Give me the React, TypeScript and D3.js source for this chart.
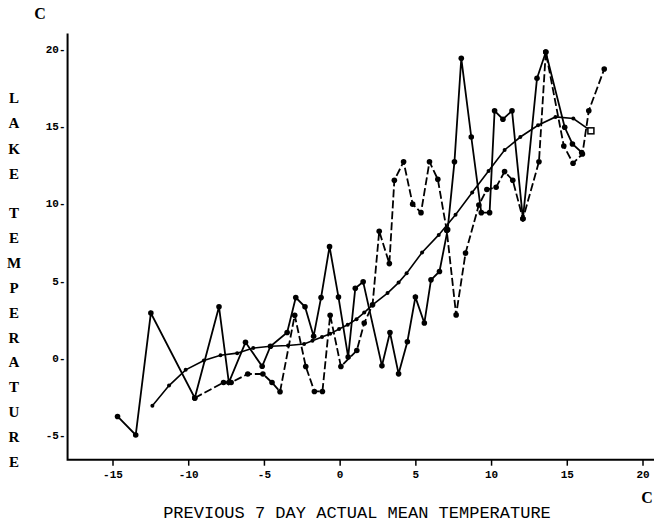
import React from "react";
import * as d3 from "d3";

const xTicks = [-15, -10, -5, 0, 5, 10, 15, 20];
const yTicks = [-5, 0, 5, 10, 15, 20];

const smoothX = [-12.4, -11.3, -10.2, -9.0, -7.9, -6.8, -5.74, -4.6, -3.44, -2.38, -1.83, -1.2, -0.66, -0.07, 0.5, 1.08, 1.59, 2.14, 3.13, 3.86, 4.39, 5.41, 6.51, 7.62, 8.72, 9.8, 10.86, 11.9, 13.07, 14.22, 15.4, 16.56];
const smoothY = [-3.1, -1.8, -0.78, -0.17, 0.17, 0.3, 0.63, 0.75, 0.8, 0.89, 1.1, 1.34, 1.55, 1.86, 2.14, 2.5, 2.93, 3.43, 4.19, 4.87, 5.48, 6.82, 7.96, 9.26, 10.7, 12.1, 13.46, 14.3, 15.06, 15.6, 15.5, 14.7];

const solidX = [-14.7, -13.5, -12.5, -9.6, -8.0, -7.35, -6.25, -5.15, -4.6, -3.5, -2.93, -2.32, -1.75, -1.26, -0.7, -0.11, 0.53, 1.0, 1.52, 2.76, 3.29, 3.86, 4.44, 4.97, 5.56, 6.0, 6.56, 7.1, 7.55, 8.0, 8.66, 9.32, 9.87, 10.2, 10.75, 11.35, 12.07, 13.0, 13.58, 14.83, 15.34, 15.95];
const solidY = [-3.8, -5.0, 2.9, -2.6, 3.3, -1.6, 1.0, -0.55, 0.75, 1.64, 3.9, 3.3, 1.4, 3.9, 7.2, 3.93, 0.05, 4.5, 4.92, -0.52, 1.64, -1.04, 1.04, 3.93, 2.25, 5.05, 5.59, 8.3, 12.7, 19.4, 14.3, 9.4, 9.4, 16.0, 15.45, 16.0, 9.0, 18.1, 19.8, 14.93, 13.85, 13.3];

const dashedX = [-9.6, -7.7, -7.2, -6.1, -5.1, -4.5, -3.97, -3.0, -2.27, -1.7, -1.17, -0.66, 0.05, 1.1, 1.59, 2.14, 2.58, 3.25, 3.58, 4.19, 4.79, 5.34, 5.9, 6.45, 7.04, 7.66, 8.28, 9.16, 9.69, 10.3, 10.86, 11.4, 12.07, 13.13, 13.58, 14.77, 15.38, 16.0, 16.42, 17.44];
const dashedY = [-2.6, -1.6, -1.6, -1.05, -1.05, -1.6, -2.2, 2.76, -0.56, -2.18, -2.18, 2.76, -0.56, 0.47, 2.25, 3.43, 8.2, 6.1, 11.5, 12.7, 9.95, 9.4, 12.7, 11.56, 8.24, 2.78, 6.78, 9.9, 10.9, 11.05, 12.06, 11.5, 9.0, 12.7, 19.8, 13.72, 12.6, 13.2, 16.0, 18.7];

const yTitleWord1 = ["L", "A", "K", "E"];
const yTitleWord2 = ["T", "E", "M", "P", "E", "R", "A", "T", "U", "R", "E"];

const W = 654;
const H = 526;

export default function App() {
  const x = d3.scaleLinear().domain([-15, 20]).range([113, 643]);
  const y = d3.scaleLinear().domain([-5, 20]).range([435, 49]);
  const x0 = x(-18);
  const yBottom = y(-6.6);
  const yTop = y(21);

  const toPts = (xs: number[], ys: number[]) => xs.map((v, i) => [v, ys[i]] as [number, number]);
  const line = d3.line<[number, number]>().x((d) => x(d[0])).y((d) => y(d[1]));

  const smooth = toPts(smoothX, smoothY);
  const solid = toPts(solidX, solidY);
  const dashed = toPts(dashedX, dashedY);
  const mono = "'Liberation Mono', 'DejaVu Sans Mono', monospace";
  const serif = "'Liberation Serif', 'DejaVu Serif', serif";

  return (
    <svg width={W} height={H} style={{ position: "absolute", left: 0, top: 0, background: "#fff" }}>
      <rect width={W} height={H} fill="#fff" />
      {/* axes */}
      <path d={`M${x0},${yTop}V${yBottom}H${W}`} fill="none" stroke="#000" strokeWidth={2} />
      {xTicks.map((t) => (
        <g key={"xt" + t}>
          <line x1={x(t)} x2={x(t)} y1={yBottom} y2={yBottom + 6} stroke="#000" strokeWidth={1.5} />
          <text x={x(t)} y={yBottom + 18} textAnchor="middle" fontFamily={mono} fontWeight="bold" fontSize={11}>{t}</text>
        </g>
      ))}
      {yTicks.map((t) => (
        <text key={"yt" + t} x={x0 - 2} y={y(t) + 4} textAnchor="end" fontFamily={mono} fontWeight="bold" fontSize={11}>{t}-</text>
      ))}
      <text x={40} y={19} textAnchor="middle" fontFamily={serif} fontWeight="bold" fontSize={16}>C</text>
      <text x={647} y={503} textAnchor="middle" fontFamily={serif} fontWeight="bold" fontSize={16}>C</text>
      {yTitleWord1.map((c, i) => (
        <text key={"ya" + i} x={14} y={103 + i * 25.3} textAnchor="middle" fontFamily={serif} fontWeight="bold" fontSize={15}>{c}</text>
      ))}
      {yTitleWord2.map((c, i) => (
        <text key={"yb" + i} x={14} y={218 + i * 24.9} textAnchor="middle" fontFamily={serif} fontWeight="bold" fontSize={15}>{c}</text>
      ))}
      <text x={357} y={518} textAnchor="middle" fontFamily={mono} fontSize={17}>PREVIOUS 7 DAY ACTUAL MEAN TEMPERATURE</text>

      {/* smooth curve */}
      <path d={line(smooth) || ""} fill="none" stroke="#000" strokeWidth={1.6} />
      {smooth.slice(0, -1).map((d, i) => (
        <circle key={"s" + i} cx={x(d[0])} cy={y(d[1])} r={2} fill="#000" />
      ))}
      <rect x={x(smooth[smooth.length - 1][0]) - 3} y={y(smooth[smooth.length - 1][1]) - 3} width={6} height={6} fill="#fff" stroke="#000" strokeWidth={1.5} />

      {/* solid zigzag */}
      <path d={line(solid) || ""} fill="none" stroke="#000" strokeWidth={1.8} />
      {solid.map((d, i) => (
        <circle key={"a" + i} cx={x(d[0])} cy={y(d[1])} r={2.8} fill="#000" />
      ))}

      {/* dashed zigzag */}
      <path d={line(dashed) || ""} fill="none" stroke="#000" strokeWidth={1.8} strokeDasharray="8,3" />
      {dashed.map((d, i) => (
        <circle key={"b" + i} cx={x(d[0])} cy={y(d[1])} r={2.8} fill="#000" />
      ))}
    </svg>
  );
}
